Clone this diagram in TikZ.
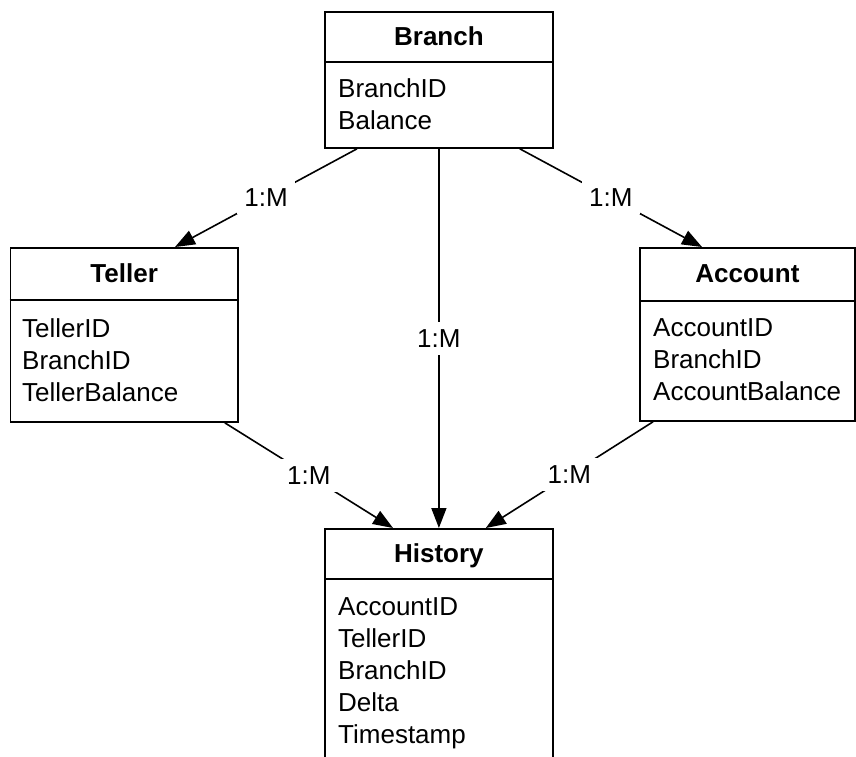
\documentclass[tikz,border=0pt]{standalone}
\usepackage{fontspec}
\setmainfont{Liberation Sans}
\usetikzlibrary{arrows.meta,calc}
\begin{document}
\begin{tikzpicture}[x=1pt,y=-1pt,
  every node/.style={font=\fontsize{26}{32}\selectfont},
  entity/.style={draw, line width=1.8pt, rectangle, inner sep=0pt, anchor=north west},
  divider/.style={line width=1.8pt},
  titletext/.style={font=\fontsize{26}{32}\selectfont\bfseries, anchor=base, inner sep=0pt},
  fieldtext/.style={anchor=base west, inner sep=0pt},
  rel/.style={line width=1.6pt, -{Triangle[length=20pt,width=15pt]}},
  card/.style={fill=white, inner sep=7.5pt}
]
\useasboundingbox (0,0) rectangle (856,756);

% Branch
\node[entity, minimum width=228pt, minimum height=136pt] (branch) at (324,11) {};
\draw[divider] ($(branch.north west)+(0,51)$) -- ($(branch.north east)+(0,51)$);
\node[titletext] (branchT) at ($(branch.north)+(0,34.7)$) {Branch};
\node[fieldtext] (branchF1) at (338,97.3) {BranchID};
\node[fieldtext] (branchF2) at (338,129.3) {Balance};

% Teller
\node[entity, minimum width=227.5pt, minimum height=174pt] (teller) at (9.5,247) {};
\draw[divider] ($(teller.north west)+(0,53)$) -- ($(teller.north east)+(0,53)$);
\node[titletext] (tellerT) at ($(teller.north)+(0,35.7)$) {Teller};
\node[fieldtext] (tellerF1) at (22,337.7) {TellerID};
\node[fieldtext] (tellerF2) at (22,369.7) {BranchID};
\node[fieldtext] (tellerF3) at (22,401.7) {TellerBalance};

% Account
\node[entity, minimum width=215pt, minimum height=173pt] (account) at (639,247) {};
\draw[divider] ($(account.north west)+(0,54)$) -- ($(account.north east)+(0,54)$);
\node[titletext] (accountT) at ($(account.north)+(0,35.7)$) {Account};
\node[fieldtext] (accountF1) at (653,336.7) {AccountID};
\node[fieldtext] (accountF2) at (653,368.7) {BranchID};
\node[fieldtext] (accountF3) at (653,400.7) {AccountBalance};

% History
\node[entity, minimum width=228pt, minimum height=234pt] (history) at (324,528) {};
\draw[divider] ($(history.north west)+(0,51)$) -- ($(history.north east)+(0,51)$);
\node[titletext] (historyT) at ($(history.north)+(0,34.7)$) {History};
\node[fieldtext] (historyF1) at (338,615) {AccountID};
\node[fieldtext] (historyF2) at (338,647) {TellerID};
\node[fieldtext] (historyF3) at (338,679) {BranchID};
\node[fieldtext] (historyF4) at (338,711) {Delta};
\node[fieldtext] (historyF5) at (338,743) {Timestamp};

% Relationships
\draw[rel] ($(branch.south west)+(33,0)$) -- node[card] {1:M} ($(teller.north west)+(165.5,0)$);
\draw[rel] ($(branch.south east)+(-34,0)$) -- node[card] {1:M} ($(account.north west)+(63,0)$);
\draw[rel] (branch.south) -- node[card] {1:M} (history.north);
\draw[rel] ($(teller.south east)+(-14,0)$) -- node[card] {1:M} ($(history.north west)+(69,0)$);
\draw[rel] ($(account.south west)+(14,0)$) -- node[card] {1:M} ($(history.north east)+(-68,0)$);
\end{tikzpicture}
\end{document}
